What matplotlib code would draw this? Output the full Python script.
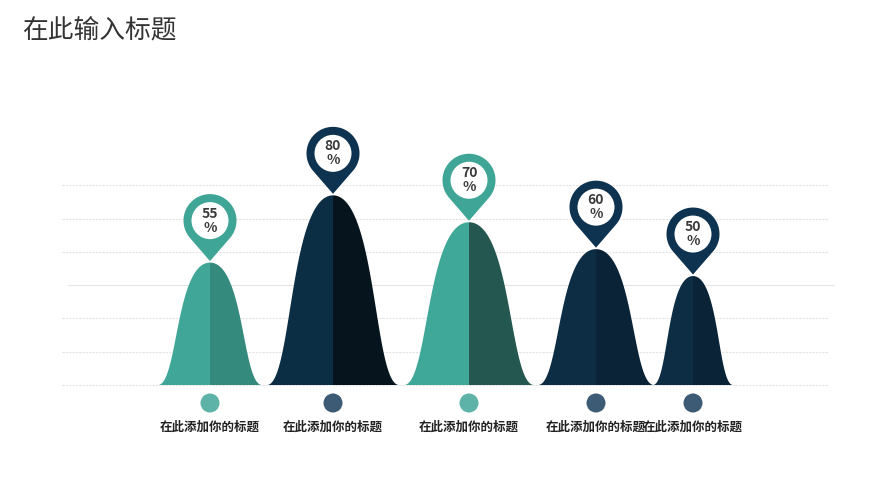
import numpy as np
import matplotlib
matplotlib.use("Agg")
import matplotlib.pyplot as plt
from matplotlib.patches import Polygon, Circle

plt.rcParams['font.family'] = ['Noto Sans CJK SC', 'DejaVu Sans']

# ---- data ----
title = "在此输入标题"
categories = ["在此添加你的标题"] * 5
values = [55, 80, 70, 60, 50]
value_labels = ["55\n%", "80\n%", "70\n%", "60\n%", "50\n%"]

# ---- layout / style ----
W, H = 896, 504
centers = [210, 333, 469, 596, 693]
half_widths = [52, 66, 65, 58, 40]
baseline = 385
px_per_unit = 2.69
value_offset = 9.5   # value that maps to the baseline
themes = ["teal", "navy", "teal", "navy", "navy"]
right_col_list = ["#358a7e", "#06141e", "#23574f", "#0b2336", "#0b2336"]
left_col_list = ["#40a697", "#0c2e45", "#3fa898", "#0d2d44", "#0d2d44"]
pin_col = {"teal": "#3fa596", "navy": "#0e3350"}
dot_col = {"teal": "#5db3a7", "navy": "#3e5b75"}

fig = plt.figure(figsize=(W / 100, H / 100), dpi=100)
ax = fig.add_axes([0, 0, 1, 1])
ax.set_xlim(0, W)
ax.set_ylim(H, 0)
ax.axis("off")

for gy in [185, 218.5, 252, 318, 352, 385]:
    ax.hlines(gy, 62, 828, color="#e3e3e3", lw=0.8, linestyles=(0, (2, 1)), zorder=0)
ax.hlines(284.5, 68, 834, color="#e3e3e3", lw=0.8, zorder=0)

fig.text(22 / W, 1 - 30 / H, title, fontsize=18.5, color="#333333", va="center", ha="left")

def half_profile():
    # cubic Bezier from base (-1, 0) to peak (0, 1), horizontal tangents at both ends
    s = np.linspace(0, 1, 300)[:, None]
    P0 = np.array([-1.0, 0.0]); P1 = np.array([-0.62, 0.0])
    P2 = np.array([-0.66, 1.0]); P3 = np.array([0.0, 1.0])
    B = (1 - s) ** 3 * P0 + 3 * (1 - s) ** 2 * s * P1 + 3 * (1 - s) * s ** 2 * P2 + s ** 3 * P3
    return B[:, 0], B[:, 1]

tx, ty = half_profile()

for i, v in enumerate(values):
    c, hw = centers[i], half_widths[i]
    h = (v - value_offset) * px_per_unit
    th = themes[i]
    xs = c + tx * hw
    ys = baseline - h * ty
    poly = np.column_stack([np.r_[xs, c], np.r_[ys, baseline]])
    ax.add_patch(Polygon(poly, closed=True, fc=left_col_list[i], ec="none", zorder=2))
    xs = c - tx * hw
    poly = np.column_stack([np.r_[xs, c], np.r_[ys, baseline]])
    ax.add_patch(Polygon(poly, closed=True, fc=right_col_list[i], ec="none", zorder=2))

    # pin
    peak = baseline - h
    tip_y = peak - 1.5
    R = 26.5
    d = 40.5
    cy = tip_y - d
    ang = np.arccos(R / d)
    thetas = np.linspace(ang, 2 * np.pi - ang, 200)
    px = c + R * np.sin(thetas)
    py = cy + R * np.cos(thetas)
    pin = np.column_stack([np.r_[c, px], np.r_[tip_y, py]])
    ax.add_patch(Polygon(pin, closed=True, fc=pin_col[th], ec="none", zorder=3))
    ax.add_patch(Circle((c, cy), 18.5, fc="white", ec="none", zorder=4))
    ax.text(c, cy, value_labels[i], ha="center", va="center", fontsize=10,
            fontweight="semibold", color="#3a3a3a", linespacing=1.0, zorder=5)

    ax.add_patch(Circle((c, 403), 9.5, fc=dot_col[th], ec="none", zorder=3))
    ax.text(c, 427, categories[i], ha="center", va="center", fontsize=9,
            fontweight="bold", color="#222222", zorder=5)

fig.savefig("out.png", dpi=100)
